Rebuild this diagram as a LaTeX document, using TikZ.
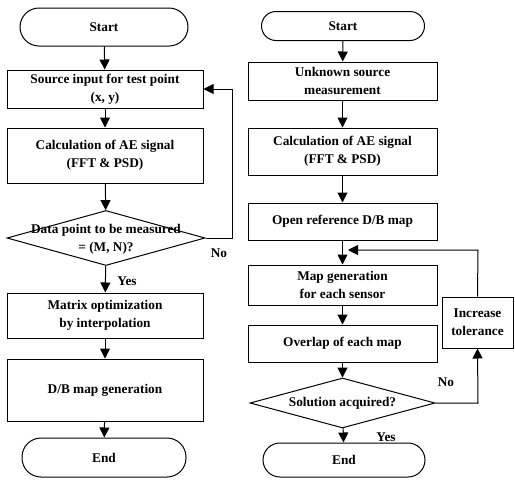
\documentclass[tikz,border=0pt]{standalone}
\usepackage{fontspec}
\setmainfont{Liberation Serif}
\usetikzlibrary{shapes.geometric,arrows.meta}
\begin{document}
\begin{tikzpicture}[x=1pt,y=-1pt,
  txt/.style={font=\bfseries\fontsize{13.3}{18}\selectfont, align=center},
  box/.style={txt, draw, line width=1pt, rectangle, inner sep=0pt},
  term/.style={txt, draw, line width=1pt, rectangle, inner sep=0pt},
  dec/.style={draw, diamond, line width=1pt, inner sep=0pt},
  arr/.style={line width=1pt, -{Triangle[length=10pt,width=10pt]}},
  lbl/.style={txt, inner sep=0pt}]
\useasboundingbox (0,0) rectangle (515,480);
% ---------- left column ----------
\node[term, minimum width=168pt, minimum height=38pt, rounded corners=19pt] (s1) at (104,27) {Start};
\node[box, minimum width=196pt, minimum height=38pt] (src1) at (105,89) {Source input for test point\\(x, y)};
\node[box, minimum width=196pt, minimum height=55pt] (calc1) at (105,155.5) {Calculation of AE signal\\(FFT \& PSD)};
\node[dec, minimum width=198pt, minimum height=55pt] (d1) at (106,238) {};
\node[lbl] (d1t) at (106,239) {Data point to be measured\\= (M, N)?};
\node[box, minimum width=196pt, minimum height=45pt] (mat1) at (105,315.5) {Matrix optimization\\by interpolation};
\node[box, minimum width=196pt, minimum height=62pt] (db1) at (105,390) {D/B map generation};
\node[term, minimum width=164pt, minimum height=39pt, rounded corners=19pt] (e1) at (104,457.5) {End};
\node[lbl] (no1) at (219,253) {No};
\node[lbl] (yes1) at (127,281) {Yes};
\coordinate (l1a) at (232,238);
\coordinate (l1b) at (232,89);
\draw[arr] (s1) -- (src1);
\draw[arr] (src1) -- (calc1);
\draw[arr] (calc1) -- (d1);
\draw[arr] (d1) -- (mat1);
\draw[arr] (mat1) -- (db1);
\draw[arr] (db1) -- (e1);
\draw[arr] (d1.east) -- (l1a) -- (l1b) -- (src1.east);
% ---------- right column ----------
\node[term, minimum width=163pt, minimum height=29pt, rounded corners=14.5pt] (s2) at (343,26) {Start};
\node[box, minimum width=189pt, minimum height=38pt] (unk2) at (342.5,81) {Unknown source\\measurement};
\node[box, minimum width=189pt, minimum height=47pt] (calc2) at (342.5,151.5) {Calculation of AE signal\\(FFT \& PSD)};
\node[box, minimum width=189pt, minimum height=37pt] (open2) at (342.5,221.5) {Open reference D/B map};
\node[box, minimum width=189pt, minimum height=40pt] (map2) at (342.5,285) {Map generation\\for each sensor};
\node[box, minimum width=189pt, minimum height=37pt] (ov2) at (342.5,343.5) {Overlap of each map};
\node[dec, minimum width=185pt, minimum height=50pt] (d2) at (342.5,403) {};
\node[lbl] (d2t) at (342.5,403) {Solution acquired?};
\node[term, minimum width=162pt, minimum height=34pt, rounded corners=17pt] (e2) at (344,460) {End};
\node[box, minimum width=71pt, minimum height=51pt] (inc2) at (477.5,322.5) {Increase\\tolerance};
\node[lbl] (no2) at (446,382) {No};
\node[lbl] (yes2) at (386,437) {Yes};
\coordinate (f2a) at (478,250);
\coordinate (f2b) at (348,250);
\coordinate (n2a) at (478,403);
\draw[arr] (s2) -- (unk2);
\draw[arr] (unk2) -- (calc2);
\draw[arr] (calc2) -- (open2);
\draw[arr] (open2) -- (map2);
\draw[arr] (map2) -- (ov2);
\draw[arr] (ov2) -- (d2);
\draw[arr] (d2) -- (e2);
\draw[arr] (inc2.north) -- (f2a) -- (f2b);
\draw[arr] (d2.east) -- (n2a) -- (inc2.south);
\end{tikzpicture}
\end{document}
